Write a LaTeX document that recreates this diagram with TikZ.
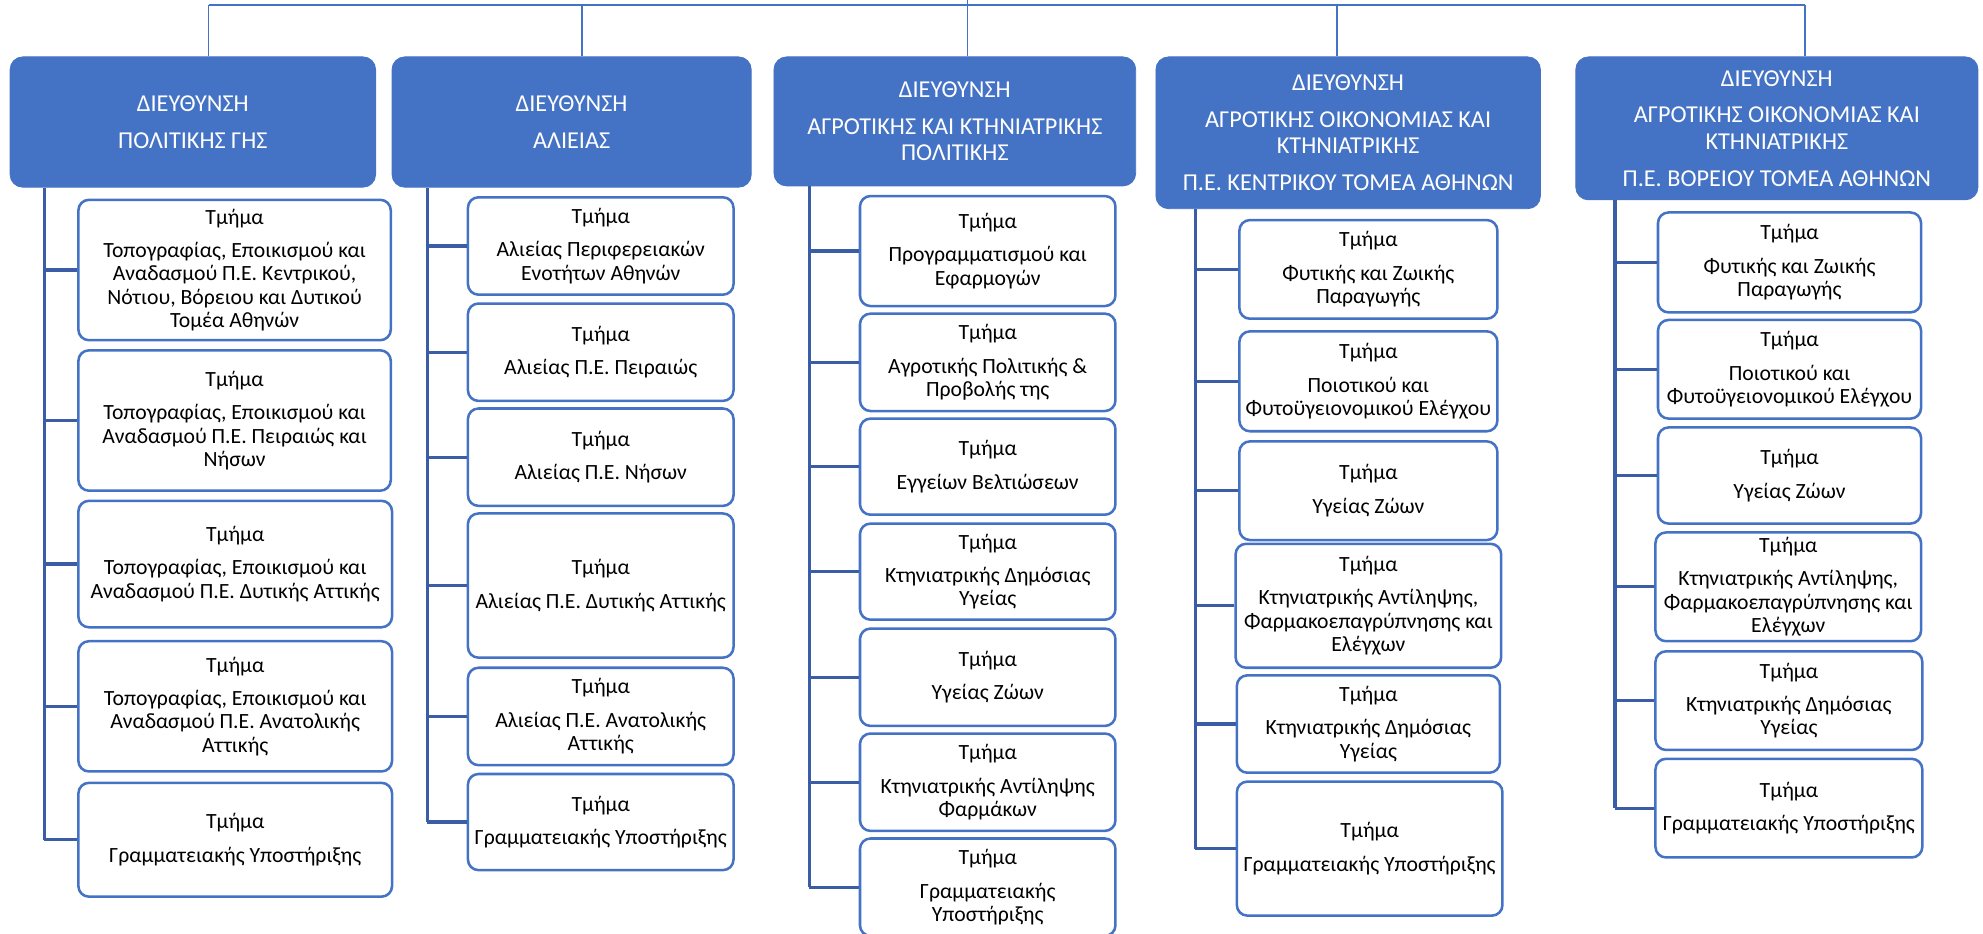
\documentclass[tikz,border=0pt]{standalone}
\usepackage{fontspec}
\setmainfont{Carlito}
\definecolor{hdr}{HTML}{4472C4}
\definecolor{spinec}{HTML}{3A5DA6}
\newcommand\hdrnode[6]{%
  \pgfmathsetmacro\bxw{(#4-#2)*0.6}\pgfmathsetmacro\bxh{(#5-#3)*0.6}%
  \node[hdrbox, minimum width=\bxw pt, minimum height=\bxh pt] (#1) at ({(#2+#4)/2},{(#3+#5)/2}) {#6};}
\newcommand\deptnode[6]{%
  \pgfmathsetmacro\bxw{(#4-#2)*0.6}\pgfmathsetmacro\bxh{(#5-#3)*0.6}%
  \node[deptbox, minimum width=\bxw pt, minimum height=\bxh pt] (#1) at ({(#2+#4)/2},{(#3+#5)/2}) {Τμήμα\\[4.7pt]#6};}
\begin{document}
\begin{tikzpicture}[x=0.6pt,y=-0.6pt,
  hdrbox/.style={draw=hdr, fill=hdr, rounded corners=6pt, text=white, align=center, inner sep=0pt, font=\fontsize{11.5}{12.65}\selectfont},
  deptbox/.style={draw=hdr, line width=1.2pt, fill=white, rounded corners=5pt, align=center, inner sep=0pt, font=\fontsize{10.3}{11.1}\selectfont},
  spine/.style={draw=spinec, line width=1.5pt},
  topline/.style={draw=hdr, line width=0.75pt}]
\useasboundingbox (0,0) rectangle (1568,738.5);

% headers
\hdrnode{H1}{8}{45}{297}{148}{ΔΙΕΥΘΥΝΣΗ\\[4.75pt]ΠΟΛΙΤΙΚΗΣ ΓΗΣ}
\hdrnode{H2}{310}{45}{594}{148}{ΔΙΕΥΘΥΝΣΗ\\[4.75pt]ΑΛΙΕΙΑΣ}
\hdrnode{H3}{612}{45}{898}{147}{ΔΙΕΥΘΥΝΣΗ\\[4.75pt]ΑΓΡΟΤΙΚΗΣ ΚΑΙ ΚΤΗΝΙΑΤΡΙΚΗΣ\\ΠΟΛΙΤΙΚΗΣ}
\hdrnode{H4}{914}{45}{1218}{165}{ΔΙΕΥΘΥΝΣΗ\\[4.75pt]ΑΓΡΟΤΙΚΗΣ ΟΙΚΟΝΟΜΙΑΣ ΚΑΙ\\ΚΤΗΝΙΑΤΡΙΚΗΣ\\[4.75pt]Π.Ε. ΚΕΝΤΡΙΚΟΥ ΤΟΜΕΑ ΑΘΗΝΩΝ}
\hdrnode{H5}{1246}{45}{1564}{158}{ΔΙΕΥΘΥΝΣΗ\\[4.75pt]ΑΓΡΟΤΙΚΗΣ ΟΙΚΟΝΟΜΙΑΣ ΚΑΙ\\ΚΤΗΝΙΑΤΡΙΚΗΣ\\[4.75pt]Π.Ε. ΒΟΡΕΙΟΥ ΤΟΜΕΑ ΑΘΗΝΩΝ}

% top connectors
\coordinate (root) at (765,0);
\coordinate (bus1) at (165,4);
\coordinate (bus2) at (460,4);
\coordinate (bus3) at (765,4);
\coordinate (bus4) at (1057,4);
\coordinate (bus5) at (1427,4);
\draw[topline] (bus1) -- (bus5);
\draw[topline] (root) -- (bus3);
\foreach \i in {1,...,5}{\draw[topline] (bus\i) -- (bus\i |- H\i.north);}

% column 1
\deptnode{c11}{62}{158}{309}{269}{Τοπογραφίας, Εποικισμού και\\Αναδασμού Π.Ε. Κεντρικού,\\Νότιου, Βόρειου και Δυτικού\\Τομέα Αθηνών}
\deptnode{c12}{62}{277}{309}{388}{Τοπογραφίας, Εποικισμού και\\Αναδασμού Π.Ε. Πειραιώς και\\Νήσων}
\deptnode{c13}{62}{396}{310}{496}{Τοπογραφίας, Εποικισμού και\\Αναδασμού Π.Ε. Δυτικής Αττικής}
\deptnode{c14}{62}{507}{310}{610}{Τοπογραφίας, Εποικισμού και\\Αναδασμού Π.Ε. Ανατολικής\\Αττικής}
\deptnode{c15}{62}{619}{310}{709}{Γραμματειακής Υποστήριξης}

% column 2
\deptnode{c21}{370}{156}{580}{233}{Αλιείας Περιφερειακών\\Ενοτήτων Αθηνών}
\deptnode{c22}{370}{240}{580}{317}{Αλιείας Π.Ε. Πειραιώς}
\deptnode{c23}{370}{323}{580}{400}{Αλιείας Π.Ε. Νήσων}
\deptnode{c24}{370}{406}{580}{520}{Αλιείας Π.Ε. Δυτικής Αττικής}
\deptnode{c25}{370}{528}{580}{605}{Αλιείας Π.Ε. Ανατολικής\\Αττικής}
\deptnode{c26}{370}{612}{580}{688}{Γραμματειακής Υποστήριξης}

% column 3
\deptnode{c31}{680}{155}{882}{242}{Προγραμματισμού και\\Εφαρμογών}
\deptnode{c32}{680}{248}{882}{325}{Αγροτικής Πολιτικής \&\\Προβολής της}
\deptnode{c33}{680}{331}{882}{407}{Εγγείων Βελτιώσεων}
\deptnode{c34}{680}{414}{882}{490}{Κτηνιατρικής Δημόσιας\\Υγείας}
\deptnode{c35}{680}{497}{882}{574}{Υγείας Ζώων}
\deptnode{c36}{680}{580}{882}{657}{Κτηνιατρικής Αντίληψης\\Φαρμάκων}
\deptnode{c37}{680}{663}{882}{740}{Γραμματειακής\\Υποστήριξης}

% column 4
\deptnode{c41}{980}{174}{1184}{252}{Φυτικής και Ζωικής\\Παραγωγής}
\deptnode{c42}{980}{262}{1184}{341}{Ποιοτικού και\\Φυτοϋγειονομικού Ελέγχου}
\deptnode{c43}{980}{349}{1184}{427}{Υγείας Ζώων}
\deptnode{c44}{977}{430}{1187}{528}{Κτηνιατρικής Αντίληψης,\\Φαρμακοεπαγρύπνησης και\\Ελέγχων}
\deptnode{c45}{978}{534}{1186}{611}{Κτηνιατρικής Δημόσιας\\Υγείας}
\deptnode{c46}{978}{618}{1188}{724}{Γραμματειακής Υποστήριξης}

% column 5
\deptnode{c51}{1311}{168}{1519}{247}{Φυτικής και Ζωικής\\Παραγωγής}
\deptnode{c52}{1311}{253}{1519}{331}{Ποιοτικού και\\Φυτοϋγειονομικού Ελέγχου}
\deptnode{c53}{1311}{338}{1519}{414}{Υγείας Ζώων}
\deptnode{c54}{1309}{421}{1519}{507}{Κτηνιατρικής Αντίληψης,\\Φαρμακοεπαγρύπνησης και\\Ελέγχων}
\deptnode{c55}{1309}{515}{1520}{593}{Κτηνιατρικής Δημόσιας\\Υγείας}
\deptnode{c56}{1309}{600}{1520}{678}{Γραμματειακής Υποστήριξης}

% spines
\coordinate (s1) at (35,0);
\coordinate (s2) at (338,0);
\coordinate (s3) at (640,0);
\coordinate (s4) at (945,0);
\coordinate (s5) at (1277,0);
\draw[spine] (s1 |- H1.south) -- (s1 |- c15.west);
\draw[spine] (s2 |- H2.south) -- (s2 |- c26.west);
\draw[spine] (s3 |- H3.south) -- (s3 |- c37.west);
\draw[spine] (s4 |- H4.south) -- (s4 |- c46.west);
\draw[spine] (s5 |- H5.south) -- (s5 |- c56.west);
\foreach \k in {1,...,5}{\draw[spine] (s1 |- c1\k.west) -- (c1\k.west);}
\foreach \k in {1,...,6}{\draw[spine] (s2 |- c2\k.west) -- (c2\k.west);}
\foreach \k in {1,...,7}{\draw[spine] (s3 |- c3\k.west) -- (c3\k.west);}
\foreach \k in {1,...,6}{\draw[spine] (s4 |- c4\k.west) -- (c4\k.west);}
\foreach \k in {1,...,6}{\draw[spine] (s5 |- c5\k.west) -- (c5\k.west);}
\end{tikzpicture}
\end{document}
